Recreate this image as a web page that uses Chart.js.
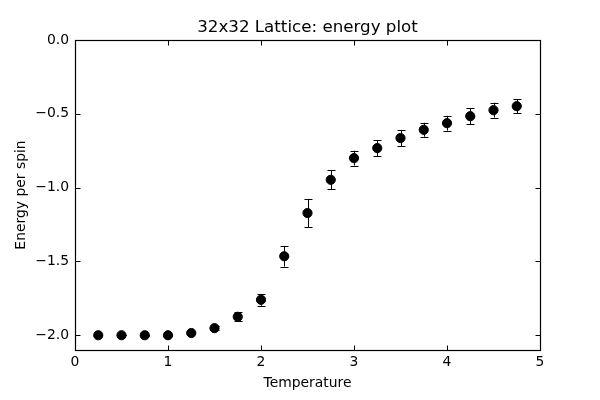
<!DOCTYPE html>
<html>
<head>
<meta charset="utf-8">
<script src="https://cdn.jsdelivr.net/npm/chart.js@4"></script>
<style>
  html, body { margin: 0; padding: 0; background: #fff; }
  canvas { display: block; }
</style>
</head>
<body>
<canvas id="c" width="600" height="400"></canvas>
<script>
// ---- data ----
const temperatures = [0.25, 0.5, 0.75, 1.0, 1.25, 1.5, 1.75, 2.0, 2.25, 2.5, 2.75, 3.0, 3.25, 3.5, 3.75, 4.0, 4.25, 4.5, 4.75];
const energies = [-2.0, -2.0, -2.0, -2.0, -1.985, -1.952, -1.875, -1.76, -1.465, -1.172, -0.947, -0.80, -0.732, -0.664, -0.608, -0.563, -0.516, -0.475, -0.448];
const energyErrors = [0.001, 0.001, 0.002, 0.003, 0.006, 0.012, 0.03, 0.04, 0.07, 0.095, 0.065, 0.05, 0.055, 0.055, 0.047, 0.05, 0.055, 0.05, 0.047];
const xTickValues = [0, 1, 2, 3, 4, 5];
const yTickValues = [0, -0.5, -1.0, -1.5, -2.0];
const chartTitle = '32x32 Lattice: energy plot';
const xLabel = 'Temperature';
const yLabel = 'Energy per spin';

const FONT = 'DejaVu Sans';

const whiteBg = {
  id: 'whiteBg',
  beforeDraw(chart) {
    const ctx = chart.ctx;
    ctx.save();
    ctx.fillStyle = '#fff';
    ctx.fillRect(0, 0, chart.width, chart.height);
    ctx.restore();
  }
};

const errorBars = {
  id: 'errorBars',
  beforeDatasetsDraw(chart) {
    const ctx = chart.ctx;
    const xs = chart.scales.x, ys = chart.scales.y;
    ctx.save();
    ctx.strokeStyle = '#000';
    ctx.lineWidth = 1;
    const cap = 4;
    temperatures.forEach((t, i) => {
      const px = Math.round(xs.getPixelForValue(t)) + 0.5;
      const yTop = ys.getPixelForValue(energies[i] + energyErrors[i]);
      const yBot = ys.getPixelForValue(energies[i] - energyErrors[i]);
      ctx.beginPath();
      ctx.moveTo(px, yTop); ctx.lineTo(px, yBot);
      ctx.moveTo(px - cap, Math.round(yTop) + 0.5); ctx.lineTo(px + cap, Math.round(yTop) + 0.5);
      ctx.moveTo(px - cap, Math.round(yBot) + 0.5); ctx.lineTo(px + cap, Math.round(yBot) + 0.5);
      ctx.stroke();
    });
    ctx.restore();
  }
};

const frameAndTicks = {
  id: 'frameAndTicks',
  afterDraw(chart) {
    const ctx = chart.ctx;
    const a = chart.chartArea;
    const xs = chart.scales.x, ys = chart.scales.y;
    const L = Math.round(a.left) + 0.5, R = Math.round(a.right) + 0.5;
    const T = Math.round(a.top) + 0.5, B = Math.round(a.bottom) + 0.5;
    const len = 5;
    ctx.save();
    ctx.strokeStyle = '#000';
    ctx.lineWidth = 1;
    ctx.beginPath();
    xTickValues.forEach(v => {
      const px = Math.round(xs.getPixelForValue(v)) + 0.5;
      ctx.moveTo(px, B); ctx.lineTo(px, B - len);
      ctx.moveTo(px, T); ctx.lineTo(px, T + len);
    });
    yTickValues.forEach(v => {
      const py = Math.round(ys.getPixelForValue(v)) + 0.5;
      ctx.moveTo(L, py); ctx.lineTo(L + len, py);
      ctx.moveTo(R, py); ctx.lineTo(R - len, py);
    });
    ctx.stroke();
    ctx.lineWidth = 1.2;
    ctx.strokeRect(L, T, R - L, B - T);
    ctx.restore();
  }
};

new Chart(document.getElementById('c'), {
  type: 'scatter',
  data: {
    datasets: [{
      data: temperatures.map((t, i) => ({ x: t, y: energies[i] })),
      backgroundColor: '#000',
      borderColor: '#000',
      borderWidth: 1,
      pointRadius: 4.6,
      pointHoverRadius: 4.6
    }]
  },
  options: {
    responsive: false,
    animation: false,
    devicePixelRatio: 1,
    layout: { autoPadding: false, padding: { left: 0, right: 60, top: 0, bottom: 0 } },
    plugins: {
      legend: { display: false },
      tooltip: { enabled: false },
      title: {
        display: true,
        text: chartTitle,
        fullSize: false,
        color: '#000',
        font: { family: FONT, size: 16.7, weight: 'normal', lineHeight: 1.2 },
        padding: { top: 18, bottom: 2 }
      }
    },
    scales: {
      x: {
        type: 'linear',
        min: 0, max: 5,
        afterFit(scale) { scale.height = 50; },
        afterBuildTicks(scale) { scale.ticks = xTickValues.map(v => ({ value: v })); },
        grid: { display: false, drawTicks: false, drawOnChartArea: false },
        border: { display: false },
        ticks: {
          color: '#000',
          padding: 4,
          maxRotation: 0,
          font: { family: FONT, size: 13.9 },
          callback: v => String(v)
        },
        title: {
          display: true,
          text: xLabel,
          color: '#000',
          font: { family: FONT, size: 13.9, lineHeight: 1.2 },
          padding: { top: 0, bottom: 8 }
        }
      },
      y: {
        type: 'linear',
        min: -2.1, max: 0,
        afterFit(scale) { scale.width = 75; },
        afterBuildTicks(scale) { scale.ticks = yTickValues.map(v => ({ value: v })); },
        grid: { display: false, drawTicks: false, drawOnChartArea: false },
        border: { display: false },
        ticks: {
          color: '#000',
          padding: 6,
          font: { family: FONT, size: 13.9 },
          callback: v => Number(v).toFixed(1).replace('-', '\u2212')
        },
        title: {
          display: true,
          text: yLabel,
          color: '#000',
          font: { family: FONT, size: 13.9, lineHeight: 1.2 },
          padding: { top: 12.9, bottom: 0 }
        }
      }
    }
  },
  plugins: [whiteBg, errorBars, frameAndTicks]
});
</script>
</body>
</html>
